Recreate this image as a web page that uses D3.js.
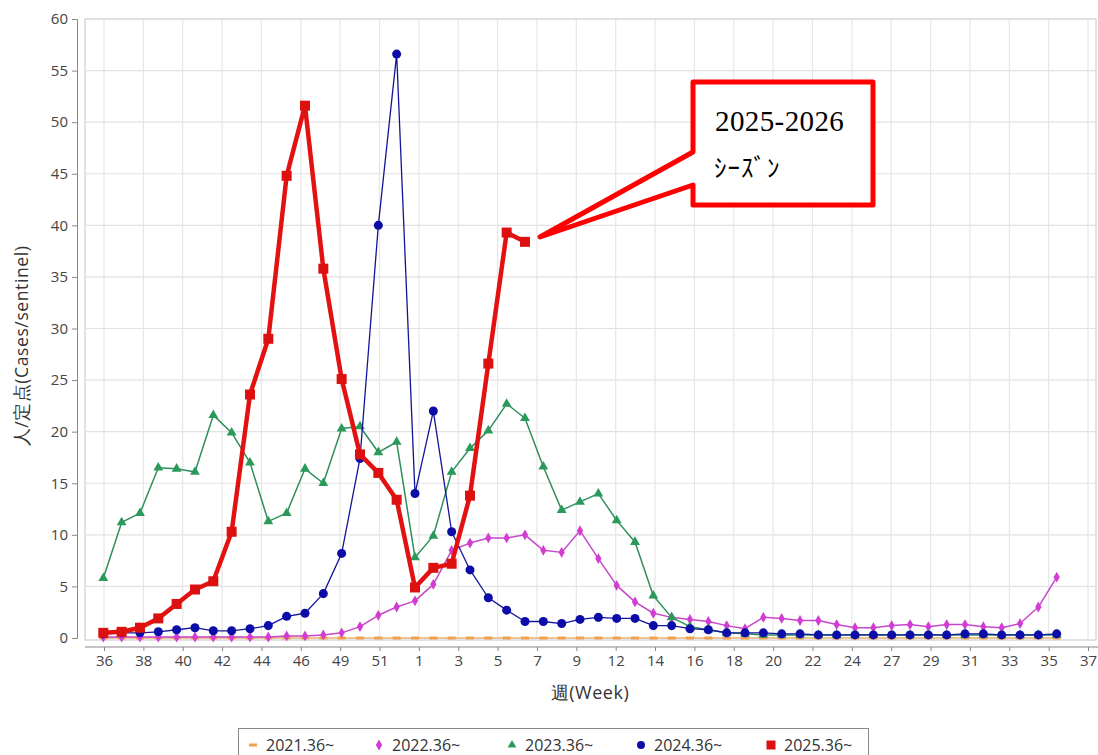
<!DOCTYPE html>
<html>
<head>
<meta charset="utf-8">
<script src="https://cdn.jsdelivr.net/npm/d3@7"></script>
<style>
  html, body { margin: 0; padding: 0; background: #fff; }
  svg { display: block; }
  text { font-family: "Open Sans", "Noto Sans", sans-serif; }
</style>
</head>
<body>
<svg id="chart" width="1098" height="755"></svg>
<script>
// ---------- DATA ----------
// data index 0..52 : week 36 .. 52, 1 .. 36 of the following year
const weeks = [36,37,38,39,40,41,42,43,44,45,46,47,48,49,50,51,52,
  1,2,3,4,5,6,7,8,9,10,11,12,13,14,15,16,17,18,19,20,21,22,23,24,25,26,27,28,29,30,31,32,33,34,35,36];

const tickLabels = ["36","38","40","42","44","46","49","51","1","3","5","7","9","12","14","16","18","20","22","24","27","29","31","33","35","37"];
const yTicks = [0,5,10,15,20,25,30,35,40,45,50,55,60];

const season2021 = [0,0,0,0,0,0,0,0,0,0,0,0,0,0,0,0,0,
  0,0,0,0,0,0,0,0,0,0,0,0,0,0,0,0,0,0,0,0,0,0,0,0,0,0,0,0,0,0,0,0,0,0,0,0];

const season2022 = [0.1,0.1,0.1,0.1,0.1,0.1,0.1,0.1,0.1,0.1,0.2,0.2,0.3,0.5,1.1,2.2,3.0,
  3.6,5.2,8.5,9.2,9.7,9.7,10.0,8.5,8.3,10.4,7.7,5.1,3.5,2.4,2.0,1.8,1.6,1.2,0.9,2.0,1.9,1.7,1.7,1.3,1.0,1.0,1.2,1.3,1.1,1.3,1.3,1.1,1.0,1.4,3.0,5.9];

const season2023 = [5.8,11.2,12.1,16.5,16.4,16.1,21.6,19.9,17.0,11.3,12.1,16.4,15.0,20.3,20.5,18.0,19.0,
  7.8,9.9,16.1,18.4,20.1,22.7,21.3,16.6,12.4,13.2,14.0,11.4,9.3,4.1,2.0,1.1,0.8,0.5,0.4,0.3,0.3,0.3,0.3,0.3,0.3,0.3,0.3,0.3,0.3,0.3,0.3,0.3,0.3,0.3,0.3,0.3];

const season2024 = [0.4,0.5,0.5,0.6,0.8,1.0,0.7,0.7,0.9,1.2,2.1,2.4,4.3,8.2,17.4,40.0,56.6,
  14.0,22.0,10.3,6.6,3.9,2.7,1.6,1.6,1.4,1.8,2.0,1.9,1.9,1.2,1.2,0.9,0.8,0.5,0.5,0.5,0.4,0.4,0.3,0.3,0.3,0.3,0.3,0.3,0.3,0.3,0.4,0.4,0.3,0.3,0.3,0.4];

const season2025 = [0.5,0.6,1.0,1.9,3.3,4.7,5.5,10.3,23.6,29.0,44.8,51.6,35.8,25.1,17.8,16.0,13.4,
  4.9,6.8,7.2,13.8,26.6,39.3,38.4];

const seriesNames = ["2021.36~","2022.36~","2023.36~","2024.36~","2025.36~"];

// ---------- SETUP ----------
const svg = d3.select("#chart");
const plot = {left: 85, top: 19, right: 1096, bottom: 640};

const x = d3.scaleLinear().domain([0, weeks.length - 1]).range([103.3, 1056.7]);
const xTick = d3.scalePoint().domain(tickLabels).range([104, 1088]);
const y = d3.scaleLinear().domain([0, 60]).range([638, 19]);

// plot background / frame
svg.append("rect").attr("x", plot.left).attr("y", plot.top)
  .attr("width", plot.right - plot.left).attr("height", plot.bottom - plot.top)
  .attr("fill", "#fff").attr("stroke", "#c4c4c4").attr("stroke-width", 1);

// gridlines
const grid = svg.append("g");
grid.selectAll("line.h").data(yTicks.filter(d => d > 0 && d < 60)).join("line")
  .attr("x1", plot.left).attr("x2", plot.right)
  .attr("y1", d => y(d)).attr("y2", d => y(d))
  .attr("stroke", "#e2e2e2").attr("stroke-width", 1.2);
grid.selectAll("line.v").data(tickLabels).join("line")
  .attr("x1", d => xTick(d)).attr("x2", d => xTick(d))
  .attr("y1", plot.top).attr("y2", plot.bottom)
  .attr("stroke", "#e6e6e6").attr("stroke-width", 1.2);

// y axis
const yAxis = svg.append("g").attr("transform", "translate(77,0)")
  .call(d3.axisLeft(y).tickValues(yTicks).tickSize(5).tickPadding(4));
yAxis.select(".domain").attr("stroke", "#888");
yAxis.selectAll(".tick line").attr("stroke", "#888");
yAxis.selectAll("text").attr("fill", "#444").style("font-size", "15px");

// x axis
const xAxis = svg.append("g").attr("transform", "translate(0,647)")
  .call(d3.axisBottom(xTick).tickSize(4).tickPadding(4).tickSizeOuter(0));
xAxis.select(".domain").attr("stroke", "#888").attr("d", `M${plot.left},0H1098`);
xAxis.selectAll(".tick line").attr("stroke", "#888");
xAxis.selectAll("text").attr("fill", "#444").style("font-size", "15px");

// axis titles
svg.append("text").attr("x", 590).attr("y", 699).attr("text-anchor", "middle")
  .attr("fill", "#333").style("font-size", "18px").style("letter-spacing", "0.5px").text("週(Week)");
svg.append("text").attr("transform", "translate(28,346) rotate(-90)")
  .attr("text-anchor", "middle").attr("fill", "#333").style("font-size", "17.5px")
  .style("letter-spacing", "0.6px")
  .text("人/定点(Cases/sentinel)");

// ---------- SERIES ----------
const line = d3.line().x((d, i) => x(i)).y(d => y(d));

function drawSeries(data, color, width, marker, mcolor) {
  const g = svg.append("g");
  g.append("path").datum(data).attr("d", line)
    .attr("fill", "none").attr("stroke", color).attr("stroke-width", width)
    .attr("stroke-linejoin", "round");
  g.selectAll("path.m").data(data).join("path")
    .attr("class", "m")
    .attr("transform", (d, i) => `translate(${x(i)},${y(d)})`)
    .attr("d", marker).attr("fill", mcolor);
  return g;
}

const dashMarker = "M-4,-1.5H4V1.5H-4Z";
const diamondMarker = d3.symbol(d3.symbolDiamond, 34)();
const triMarker = d3.symbol(d3.symbolTriangle, 42)();
const circleMarker = d3.symbol(d3.symbolCircle, 64)();
const squareMarker = "M-5,-5H5V5H-5Z";

drawSeries(season2021, "#e8b070", 1.5, dashMarker, "#f0a050");
drawSeries(season2022, "#c846c8", 1.5, diamondMarker, "#d23cd2");
drawSeries(season2023, "#2f8f5a", 1.5, triMarker, "#2a9a5a");
drawSeries(season2024, "#14149a", 1.3, circleMarker, "#0c0ca8");
drawSeries(season2025, "#e31212", 4.5, squareMarker, "#dd1010");

// ---------- CALLOUT ----------
svg.append("path")
  .attr("d", "M693,82 L873,82 L873,205 L693,205 L693,185 L540,237 L693,152 Z")
  .attr("fill", "#fff").attr("stroke", "#ff0000").attr("stroke-width", 5)
  .attr("stroke-linejoin", "round");
svg.append("text").attr("x", 715).attr("y", 131)
  .style("font-family", "'Liberation Serif', 'DejaVu Serif', serif")
  .style("font-size", "29px").style("letter-spacing", "0.4px").attr("fill", "#000").text("2025-2026");
svg.append("text").attr("x", 714).attr("y", 177)
  .style("font-family", "'Noto Sans CJK JP', serif")
  .style("font-size", "25px").style("letter-spacing", "1px").attr("fill", "#000").text("ｼｰｽﾞﾝ");

// ---------- LEGEND ----------
const legend = svg.append("g");
legend.append("rect").attr("x", 238.5).attr("y", 728.5).attr("width", 630).attr("height", 40)
  .attr("fill", "#fff").attr("stroke", "#888");
const legendX = [253, 379, 512, 641, 771];
const legendMarkers = [dashMarker, diamondMarker, d3.symbol(d3.symbolTriangle, 34)(), d3.symbol(d3.symbolCircle, 50)(), "M-4.5,-4.5H4.5V4.5H-4.5Z"];
const legendColors = ["#f0a050", "#d23cd2", "#2a9a5a", "#0c0ca8", "#dd1010"];
seriesNames.forEach((name, i) => {
  legend.append("path").attr("transform", `translate(${legendX[i]},745)`)
    .attr("d", legendMarkers[i]).attr("fill", legendColors[i]);
  legend.append("text").attr("x", legendX[i] + 13).attr("y", 751)
    .attr("fill", "#333").style("font-size", "16px").text(name);
});
</script>
</body>
</html>
